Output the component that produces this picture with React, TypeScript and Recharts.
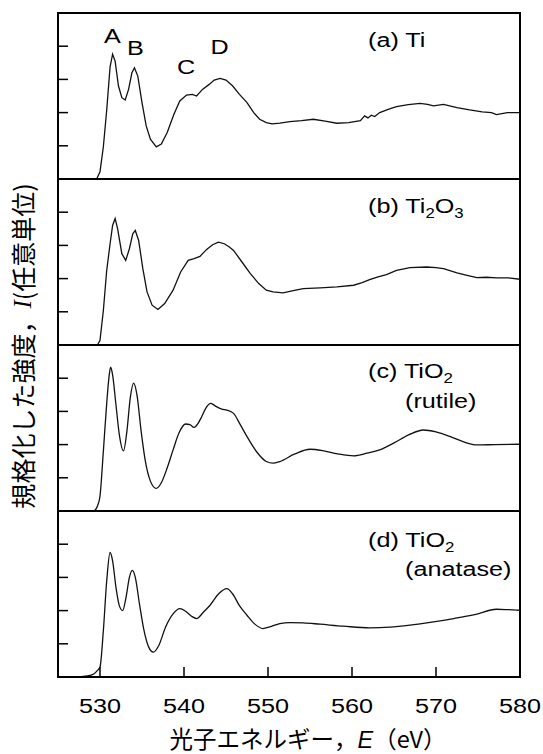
import React from 'react';
import { LineChart, Line, XAxis, YAxis, ReferenceArea } from 'recharts';

// (a) Ti
const energyA = [529.6, 530.0, 530.4, 530.8, 531.2, 531.5, 531.8, 532.2, 532.6, 533.0, 533.4, 533.8, 534.1, 534.5, 535.0, 535.5, 536.0, 536.7, 537.3, 538.0, 538.8, 539.5, 540.3, 541.0, 541.5, 542.2, 543.0, 543.6, 544.3, 545.0, 545.8, 546.6, 547.5, 548.3, 549.0, 549.8, 550.5, 551.4, 552.6, 554.0, 555.4, 556.8, 558.2, 559.6, 561.0, 561.5, 561.9, 562.3, 562.7, 563.3, 564.3, 565.3, 566.7, 568.1, 569.0, 569.7, 570.9, 572.5, 574.0, 575.5, 576.6, 577.2, 578.5, 580.0];
const intensityA = [0, 0.22, 0.97, 2.08, 3.38, 3.76, 3.55, 2.8, 2.45, 2.38, 2.7, 3.2, 3.35, 3.1, 2.3, 1.6, 1.2, 0.97, 1.05, 1.4, 1.95, 2.35, 2.53, 2.55, 2.5, 2.7, 2.85, 2.98, 3.03, 2.98, 2.8, 2.55, 2.3, 2.0, 1.8, 1.7, 1.66, 1.68, 1.73, 1.76, 1.8, 1.74, 1.68, 1.7, 1.76, 1.9, 1.84, 1.92, 1.88, 2.0, 2.1, 2.18, 2.24, 2.28, 2.25, 2.2, 2.25, 2.15, 2.08, 2.02, 2.0, 1.94, 2.0, 2.0];

// (b) Ti2O3
const energyB = [529.7, 530.0, 530.4, 530.8, 531.2, 531.5, 531.8, 532.1, 532.6, 533.06, 533.5, 533.9, 534.2, 534.6, 535.1, 535.6, 536.2, 536.9, 537.7, 538.7, 539.6, 540.5, 541.2, 541.9, 542.7, 543.4, 544.1, 544.8, 545.4, 545.9, 546.9, 547.9, 548.9, 549.8, 550.6, 551.8, 553.0, 554.2, 556.2, 558.2, 560.2, 561.2, 562.1, 563.1, 564.1, 565.3, 566.9, 568.9, 570.0, 570.9, 572.5, 573.7, 574.85, 576.0, 577.2, 578.6, 580.0];
const intensityB = [0, 0.14, 1.04, 2.25, 3.05, 3.6, 3.81, 3.5, 2.75, 2.55, 2.9, 3.35, 3.45, 3.15, 2.3, 1.6, 1.2, 1.07, 1.25, 1.65, 2.2, 2.55, 2.6, 2.67, 2.88, 3.02, 3.1, 3.05, 2.95, 2.85, 2.5, 2.15, 1.85, 1.65, 1.6, 1.57, 1.64, 1.7, 1.72, 1.75, 1.8, 1.88, 1.97, 2.05, 2.12, 2.25, 2.33, 2.35, 2.33, 2.3, 2.17, 2.1, 2.03, 2.04, 2.02, 2.02, 1.98];

// (c) TiO2 rutile
const energyC = [529.3, 529.7, 530.0, 530.4, 530.8, 531.1, 531.27, 531.5, 531.9, 532.3, 532.8, 533.2, 533.6, 534.0, 534.4, 534.9, 535.4, 536.0, 536.7, 537.3, 538.0, 538.7, 539.4, 540.2, 540.7, 541.2, 541.7, 542.1, 542.6, 543.2, 543.8, 544.5, 545.1, 545.9, 546.7, 547.5, 548.6, 549.8, 550.6, 551.4, 553.2, 555.0, 556.5, 558.3, 560.2, 561.8, 563.3, 565.0, 566.8, 568.5, 570.0, 571.7, 573.3, 574.85, 577.0, 580.0];
const intensityC = [0, 0.15, 0.45, 1.8, 3.25, 4.1, 4.33, 4.1, 3.2, 2.3, 1.81, 2.4, 3.4, 3.85, 3.5, 2.4, 1.5, 0.9, 0.68, 0.85, 1.3, 1.84, 2.35, 2.62, 2.6, 2.52, 2.65, 2.84, 3.1, 3.24, 3.15, 3.07, 3.04, 2.94, 2.6, 2.24, 1.8, 1.49, 1.44, 1.49, 1.72, 1.86, 1.82, 1.72, 1.66, 1.74, 1.84, 2.05, 2.3, 2.44, 2.38, 2.24, 2.08, 1.99, 2.0, 2.01];

// (d) TiO2 anatase
const energyD = [525.0, 527.0, 528.5, 529.3, 529.7, 530.0, 530.4, 530.8, 531.2, 531.5, 531.9, 532.3, 532.7, 533.1, 533.5, 533.85, 534.2, 534.7, 535.2, 535.8, 536.35, 537.0, 537.8, 538.7, 539.5, 540.2, 540.9, 541.5, 542.3, 543.1, 544.1, 545.1, 545.8, 546.6, 547.5, 548.4, 549.4, 550.2, 551.4, 552.6, 554.2, 556.2, 559.0, 562.1, 564.5, 566.9, 569.5, 572.1, 574.6, 577.2, 578.5, 580.0];
const intensityD = [0, 0, 0.03, 0.1, 0.2, 0.3, 1.4, 2.9, 3.75, 3.5, 2.7, 2.15, 2.0, 2.4, 3.0, 3.21, 3.0, 2.2, 1.45, 0.9, 0.75, 0.95, 1.5, 1.9, 2.06, 1.98, 1.83, 1.76, 1.95, 2.16, 2.5, 2.66, 2.5, 2.15, 1.86, 1.6, 1.46, 1.51, 1.61, 1.64, 1.63, 1.59, 1.53, 1.48, 1.5, 1.56, 1.65, 1.76, 1.88, 2.04, 2.03, 2.01];

const xTicks = [530, 540, 550, 560, 570, 580];
const yTicks = [1, 2, 3, 4];

const panels = [
  { id: 'a', top: 13, energy: energyA, intensity: intensityA, curve: 'linear' },
  { id: 'b', top: 179, energy: energyB, intensity: intensityB, curve: 'linear' },
  { id: 'c', top: 345, energy: energyC, intensity: intensityC, curve: 'monotone' },
  { id: 'd', top: 511, energy: energyD, intensity: intensityD, curve: 'monotone' },
];

const SANS = '"Liberation Sans", Arial, sans-serif';
const JP = '"Noto Sans CJK JP", sans-serif';

const BottomTick = (props: any) => {
  const { x, y, payload } = props;
  return (
    <text transform={`translate(${x},${y}) scale(1.2,1)`} textAnchor="middle" dy="0.36em"
      fontSize={21} fontFamily={SANS} fill="#000">
      {payload.value}
    </text>
  );
};

const Panel = ({ p, last }: { p: any; last: boolean }) => {
  const data = p.energy.map((e: number, i: number) => ({ e, v: p.intensity[i] }));
  const h = last ? 2 + 166 + 77 : 170;
  return (
    <div style={{ position: 'absolute', left: 0, top: p.top - 2 }}>
      <LineChart width={543} height={h} data={data} margin={{ top: 2, right: 23, bottom: 0, left: 0 }}>
        <XAxis dataKey="e" type="number" domain={[525, 580]} ticks={xTicks} allowDataOverflow
          height={last ? 77 : 2} tickSize={-10} tickMargin={last ? 38 : 0}
          axisLine={{ stroke: '#000', strokeWidth: 2 }} tickLine={{ stroke: '#000', strokeWidth: 1.5 }}
          tick={last ? <BottomTick /> : false} />
        <YAxis type="number" domain={[0, 5]} ticks={yTicks} allowDataOverflow width={58}
          tickSize={-10} tickFormatter={() => ''}
          axisLine={{ stroke: '#000', strokeWidth: 2 }} tickLine={{ stroke: '#000', strokeWidth: 1.5 }} />
        <ReferenceArea x1={525} x2={580} y1={0} y2={5} fill="none" fillOpacity={0} stroke="#000" strokeWidth={2} />
        <Line type={p.curve} dataKey="v" stroke="#111" strokeWidth={1.3} dot={false} isAnimationActive={false} />
      </LineChart>
    </div>
  );
};

const Lbl = ({ x, y, anchor = 'start', children }: any) => (
  <text transform={`translate(${x},${y}) scale(1.2,1)`} textAnchor={anchor} fontSize={21} fontFamily={SANS} fill="#000">
    {children}
  </text>
);

export default function App() {
  return (
    <div style={{ position: 'absolute', left: 0, top: 0, width: 543, height: 754, background: '#fff' }}>
      {panels.map((p, i) => (
        <Panel key={p.id} p={p} last={i === panels.length - 1} />
      ))}
      <svg width={543} height={754} style={{ position: 'absolute', left: 0, top: 0, pointerEvents: 'none' }}>
        <Lbl x={112.5} y={43} anchor="middle">A</Lbl>
        <Lbl x={135.5} y={55} anchor="middle">B</Lbl>
        <Lbl x={186} y={74} anchor="middle">C</Lbl>
        <Lbl x={219.5} y={54} anchor="middle">D</Lbl>
        <Lbl x={368} y={47}>(a) Ti</Lbl>
        <Lbl x={368} y={213}>
          (b) Ti<tspan fontSize={14} dy={5}>2</tspan><tspan dy={-5}>O</tspan><tspan fontSize={14} dy={5}>3</tspan>
        </Lbl>
        <Lbl x={368} y={378}>
          (c) TiO<tspan fontSize={14} dy={5}>2</tspan>
        </Lbl>
        <Lbl x={405} y={408}>(rutile)</Lbl>
        <Lbl x={368} y={547}>
          (d) TiO<tspan fontSize={14} dy={5}>2</tspan>
        </Lbl>
        <Lbl x={405} y={576}>(anatase)</Lbl>
        <text x={22} y={346} transform="rotate(-90,22,346)" textAnchor="middle" dominantBaseline="central"
          fontSize={25} fontFamily={JP} fill="#000">
          規格化した強度，<tspan fontFamily='"Liberation Serif", serif' fontStyle="italic">I</tspan>(任意単位)
        </text>
        <text x={308} y={748} textAnchor="middle" fontSize={23.5} fontFamily={JP} fill="#000">
          光子エネルギー，<tspan fontFamily={SANS} fontStyle="italic">E</tspan>（eV）
        </text>
      </svg>
    </div>
  );
}
